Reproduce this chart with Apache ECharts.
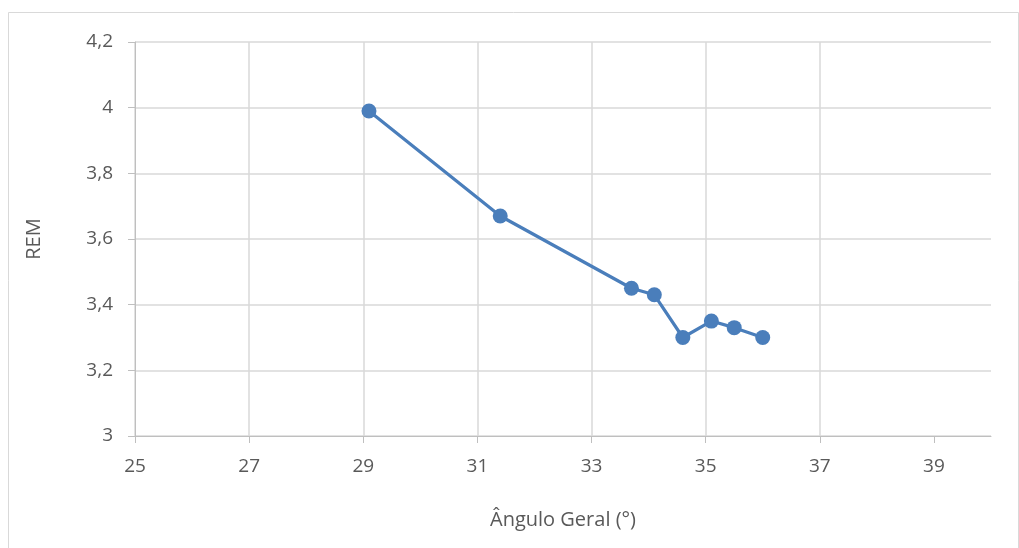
<!DOCTYPE html>
<html><head><meta charset="utf-8">
<script src="https://cdn.jsdelivr.net/npm/echarts@6/dist/echarts.min.js"></script>
<style>html,body{margin:0;padding:0;background:#fff}#c{width:1019px;height:548px}</style>
</head><body><div id="c"></div>
<script>
const xValues = [29.1, 31.4, 33.7, 34.1, 34.6, 35.1, 35.5, 36.0];
const remValues = [3.99, 3.67, 3.45, 3.43, 3.30, 3.35, 3.33, 3.30];
const xTicks = [25, 27, 29, 31, 33, 35, 37, 39];
const yTicks = [3, 3.2, 3.4, 3.6, 3.8, 4, 4.2];
const xTitle = 'Ângulo Geral (°)';
const yTitle = 'REM';

const chart = echarts.init(document.getElementById('c'));
const font = '"Open Sans", sans-serif';
chart.setOption({
  animation: false,
  backgroundColor: '#fff',
  graphic: [{type:'rect', shape:{x:8.5,y:12.5,width:1010,height:560}, style:{fill:'none', stroke:'#d9d9d9', lineWidth:1}, z:-1}],
  grid: {left:135, right:28, top:42, bottom:112},
  xAxis: {
    type:'value', min:25, max:40, interval:2,
    name: xTitle, nameLocation:'middle', nameGap:74,
    nameTextStyle:{color:'#595959', fontSize:20, fontFamily:font},
    axisLine:{show:true, onZero:false, lineStyle:{color:'#bfbfbf', width:1}},
    axisTick:{show:true, length:7, lineStyle:{color:'#bfbfbf'}, customValues: xTicks},
    axisLabel:{color:'#595959', fontSize:19, fontFamily:font, margin:21, customValues: xTicks},
    splitLine:{show:true, showMaxLine:false, lineStyle:{color:'#d9d9d9', width:1.5}}
  },
  yAxis: {
    type:'value', min:3, max:4.2, interval:0.2,
    name: yTitle, nameLocation:'middle', nameGap:91, nameRotate:90,
    nameTextStyle:{color:'#595959', fontSize:20, fontFamily:font},
    axisLine:{show:true, lineStyle:{color:'#bfbfbf', width:1}},
    axisTick:{show:true, length:7, lineStyle:{color:'#bfbfbf'}},
    axisLabel:{color:'#595959', fontSize:19, fontFamily:font, margin:22,
      formatter: v => String(Math.round(v*10)/10).replace('.', ',')},
    splitLine:{show:true, lineStyle:{color:'#d9d9d9', width:1.5}}
  },
  series: [{
    type:'line',
    data: xValues.map((x,i)=>[x, remValues[i]]),
    symbol:'circle', symbolSize:15,
    lineStyle:{color:'#4a7ebb', width:3.2},
    itemStyle:{color:'#4a7ebb'}
  }]
});
</script></body></html>
